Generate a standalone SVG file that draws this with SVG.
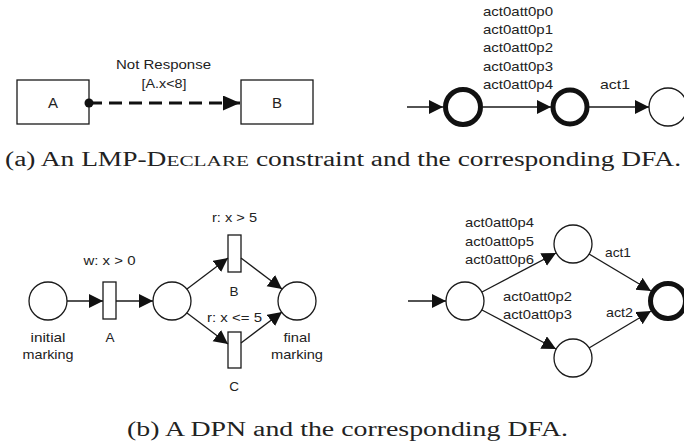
<svg xmlns="http://www.w3.org/2000/svg" width="684" height="445" viewBox="0 0 684 445">
<style>
  .ln{stroke:#1a1a1a;stroke-width:1.3;fill:none}
  .nd{stroke:#1a1a1a;stroke-width:1.3;fill:#fff}
  .acc{stroke:#111;stroke-width:5;fill:#fff}
  .t{font-family:"Liberation Sans",Arial,sans-serif;font-size:13.5px;fill:#222}
  .bx{font-size:15px}
  .m{text-anchor:middle}
  .cap{font-family:"Liberation Serif","Times New Roman",serif;font-size:20px;fill:#222}
</style>
<defs>
  <marker id="ah" markerUnits="userSpaceOnUse" markerWidth="16" markerHeight="15" refX="14" refY="7" orient="auto">
    <path d="M0,0 L14,7 L0,14 z" fill="#111"/>
  </marker>
  <marker id="ahb" markerUnits="userSpaceOnUse" markerWidth="18" markerHeight="16" refX="17" refY="7.5" orient="auto">
    <path d="M0,0 L17,7.5 L0,15 z" fill="#111"/>
  </marker>
</defs>

<!-- (a) left: LMP-Declare constraint -->
<g id="boxA"><rect class="nd" x="17" y="80" width="72" height="44"/><text class="t bx m" x="53" y="108">A</text></g>
<g id="boxB"><rect class="nd" x="241" y="80" width="72" height="44"/><text class="t bx m" x="277" y="108">B</text></g>

<!-- (a) right: DFA -->
<g id="q0"><circle class="acc" cx="463" cy="107" r="17.5"/></g>
<g id="q1"><circle class="acc" cx="570" cy="107" r="17"/></g>
<g id="q2"><circle class="nd" cx="668" cy="107" r="19"/></g>

<!-- (b) left: DPN -->
<g id="p_init"><circle class="nd" cx="48" cy="301" r="19"/>
  <text class="t m" x="48" y="342" textLength="35" lengthAdjust="spacingAndGlyphs">initial</text>
  <text class="t m" x="48" y="359" textLength="51" lengthAdjust="spacingAndGlyphs">marking</text></g>
<g id="t_A"><rect class="nd" x="103" y="282" width="13" height="37"/>
  <text class="t m" x="109.5" y="265" textLength="52" lengthAdjust="spacingAndGlyphs">w: x &gt; 0</text>
  <text class="t m" x="110" y="342">A</text></g>
<g id="p_mid"><circle class="nd" cx="172" cy="301" r="19"/></g>
<g id="t_B"><rect class="nd" x="228" y="235" width="13" height="37"/>
  <text class="t m" x="234.5" y="222" textLength="45" lengthAdjust="spacingAndGlyphs">r: x &gt; 5</text>
  <text class="t m" x="234" y="296">B</text></g>
<g id="t_C"><rect class="nd" x="228" y="332" width="13" height="36"/>
  <text class="t m" x="234.5" y="322" textLength="55" lengthAdjust="spacingAndGlyphs">r: x &lt;= 5</text>
  <text class="t m" x="234" y="391">C</text></g>
<g id="p_final"><circle class="nd" cx="297" cy="301" r="19"/>
  <text class="t m" x="297" y="342" textLength="27" lengthAdjust="spacingAndGlyphs">final</text>
  <text class="t m" x="297" y="359" textLength="52" lengthAdjust="spacingAndGlyphs">marking</text></g>

<!-- (b) right: DFA -->
<g id="s0"><circle class="nd" cx="465" cy="301" r="19"/></g>
<g id="s1"><circle class="nd" cx="573" cy="244" r="19"/></g>
<g id="s2"><circle class="nd" cx="573" cy="358" r="19"/></g>
<g id="s3"><circle class="acc" cx="668" cy="301" r="17.5"/></g>

<g id="connectors">
  <!-- (a) left -->
  <line x1="89" y1="103" x2="240" y2="103" stroke="#111" stroke-width="3" stroke-dasharray="13 7" marker-end="url(#ahb)"/>
  <circle cx="89" cy="103" r="4.5" fill="#111"/>
  <text class="t m" x="163.5" y="69" textLength="95" lengthAdjust="spacingAndGlyphs">Not Response</text>
  <text class="t m" x="164" y="88" textLength="45" lengthAdjust="spacingAndGlyphs">[A.x&lt;8]</text>

  <!-- (a) right -->
  <line class="ln" x1="407" y1="107" x2="443" y2="107" marker-end="url(#ah)"/>
  <line class="ln" x1="483" y1="107" x2="551" y2="107" marker-end="url(#ah)"/>
  <line class="ln" x1="589" y1="107" x2="649" y2="107" marker-end="url(#ah)"/>
  <text class="t" x="483" y="16" textLength="70" lengthAdjust="spacingAndGlyphs">act0att0p0</text>
  <text class="t" x="483" y="34.2" textLength="70" lengthAdjust="spacingAndGlyphs">act0att0p1</text>
  <text class="t" x="483" y="52.4" textLength="70" lengthAdjust="spacingAndGlyphs">act0att0p2</text>
  <text class="t" x="483" y="70.6" textLength="70" lengthAdjust="spacingAndGlyphs">act0att0p3</text>
  <text class="t" x="483" y="88.8" textLength="70" lengthAdjust="spacingAndGlyphs">act0att0p4</text>
  <text class="t" x="600" y="88.5" textLength="30" lengthAdjust="spacingAndGlyphs">act1</text>

  <!-- (b) left -->
  <line class="ln" x1="67" y1="301" x2="103" y2="301" marker-end="url(#ah)"/>
  <line class="ln" x1="116" y1="301" x2="153" y2="301" marker-end="url(#ah)"/>
  <line class="ln" x1="187" y1="289" x2="228" y2="258" marker-end="url(#ah)"/>
  <line class="ln" x1="187" y1="313" x2="228" y2="344" marker-end="url(#ah)"/>
  <line class="ln" x1="241" y1="258" x2="282" y2="289" marker-end="url(#ah)"/>
  <line class="ln" x1="241" y1="343" x2="282" y2="312" marker-end="url(#ah)"/>

  <!-- (b) right -->
  <line class="ln" x1="408" y1="301" x2="446" y2="301" marker-end="url(#ah)"/>
  <line class="ln" x1="482" y1="292" x2="556" y2="253" marker-end="url(#ah)"/>
  <line class="ln" x1="482" y1="310" x2="556" y2="349" marker-end="url(#ah)"/>
  <line class="ln" x1="589" y1="254" x2="651" y2="291" marker-end="url(#ah)"/>
  <line class="ln" x1="589" y1="348" x2="651" y2="311" marker-end="url(#ah)"/>
  <text class="t" x="465" y="227" textLength="69" lengthAdjust="spacingAndGlyphs">act0att0p4</text>
  <text class="t" x="465" y="245.5" textLength="69" lengthAdjust="spacingAndGlyphs">act0att0p5</text>
  <text class="t" x="465" y="264" textLength="69" lengthAdjust="spacingAndGlyphs">act0att0p6</text>
  <text class="t" x="503" y="301" textLength="69" lengthAdjust="spacingAndGlyphs">act0att0p2</text>
  <text class="t" x="503" y="319" textLength="69" lengthAdjust="spacingAndGlyphs">act0att0p3</text>
  <text class="t" x="605" y="257" textLength="26" lengthAdjust="spacingAndGlyphs">act1</text>
  <text class="t" x="606" y="317" textLength="27" lengthAdjust="spacingAndGlyphs">act2</text>
</g>

<text class="cap" x="5" y="166" textLength="676" lengthAdjust="spacingAndGlyphs">(a) An LMP-D<tspan font-size="15.5">ECLARE</tspan> constraint and the corresponding DFA.</text>
<text class="cap" x="127" y="436" textLength="441" lengthAdjust="spacingAndGlyphs">(b) A DPN and the corresponding DFA.</text>
</svg>
